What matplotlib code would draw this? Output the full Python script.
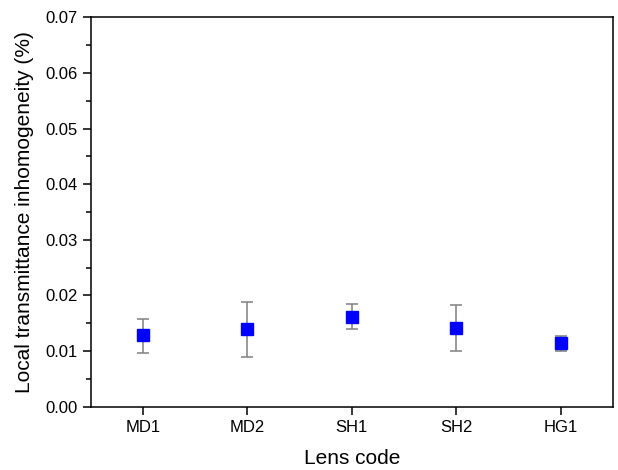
import numpy as np
import matplotlib.pyplot as plt

plt.rcParams['font.family'] = ['Liberation Sans', 'DejaVu Sans']

lenses = ['MD1', 'MD2', 'SH1', 'SH2', 'HG1']
values = [0.0128, 0.0139, 0.0162, 0.0142, 0.0114]
err_low = [0.0097, 0.0089, 0.0139, 0.0100, 0.0100]
err_high = [0.0158, 0.0188, 0.0184, 0.0182, 0.0127]

x = np.arange(1, len(lenses) + 1)
vals = np.array(values)
yerr = [vals - np.array(err_low), np.array(err_high) - vals]

fig = plt.figure(figsize=(6.18, 4.70), dpi=100)
ax = fig.add_axes([0.1468, 0.1347, 0.8451, 0.8285])

ax.errorbar(x, vals, yerr=yerr, fmt='s', color='#0000ff', markersize=8,
            ecolor='#808080', elinewidth=1.1, capsize=4, capthick=1.1)

ax.set_xlim(0.5, 5.5)
ax.set_ylim(0, 0.07)
ax.set_xticks(x)
ax.set_xticklabels(lenses)
ax.set_yticks(np.arange(0, 0.0701, 0.01))
ax.set_yticklabels([f'{v:.2f}' for v in np.arange(0, 0.0701, 0.01)])
ax.set_yticks(np.arange(0.005, 0.07, 0.01), minor=True)

for s in ax.spines.values():
    s.set_linewidth(1.1)
ax.tick_params(axis='both', which='major', direction='out', length=6, width=1.1,
               labelsize=12, pad=3.5)
ax.tick_params(axis='y', which='minor', direction='out', length=3.5, width=1.1)

ax.set_xlabel('Lens code', fontsize=15, labelpad=10)
ax.set_ylabel('Local transmittance inhomogeneity (%)', fontsize=15, labelpad=8)

fig.savefig('out.png', dpi=100)
